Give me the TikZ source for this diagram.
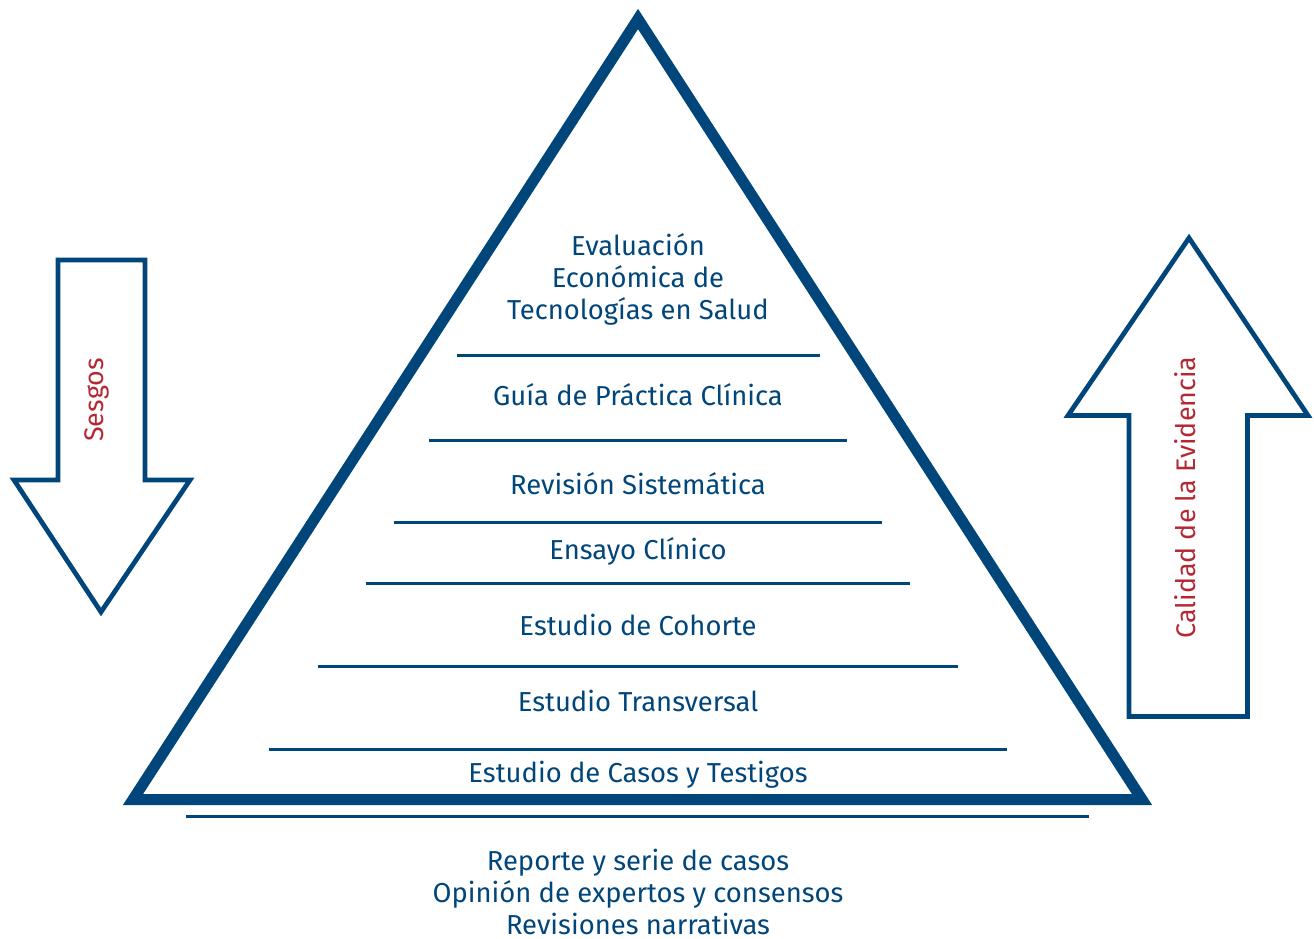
\documentclass[tikz,border=0pt]{standalone}
\usepackage{fontspec}
\setmainfont{Fira Sans}
\definecolor{azul}{RGB}{1,70,122}
\definecolor{rojo}{RGB}{180,40,52}
\tikzset{
    nivel/.style={text=azul, font=\fontsize{15.6}{18.2}\selectfont, anchor=base, align=center, inner sep=0pt},
    rotulo/.style={text=rojo, font=\fontsize{15.3}{18}\selectfont, rotate=90, anchor=base, inner sep=0pt},
    raya/.style={draw=azul, line width=0.06cm},
    flecha/.style={draw=azul, fill=white, line width=0.095cm, line join=miter},
}
\begin{document}
\begin{tikzpicture}[x=0.02cm, y=-0.02cm]
        \useasboundingbox (0,0) rectangle (1314,939);
        \draw[azul, line width=0.22cm, line join=miter] (638,19) -- (1142,799.5) -- (133,799.5) -- cycle; % piramide
        \draw[raya] (456.5,355.5) -- (819.5,355.5);
        \draw[raya] (429,440) -- (847,440);
        \draw[raya] (394,522) -- (882,522);
        \draw[raya] (366,583) -- (910,583);
        \draw[raya] (318,666) -- (958,666);
        \draw[raya] (269,749) -- (1007,749);
        \draw[raya] (186,816.5) -- (1089,816.5); % fuera
        \node[nivel] (evaluacion) at(638,319){Evaluación\\Económica de\\Tecnologías en Salud};
        \node[nivel] (guia) at(638,405){Guía de Práctica Clínica};
        \node[nivel] (revision) at(638,494){Revisión Sistemática};
        \node[nivel] (ensayo) at(638,559){Ensayo Clínico};
        \node[nivel] (cohorte) at(638,635){Estudio de Cohorte};
        \node[nivel] (transversal) at(638,711){Estudio Transversal};
        \node[nivel] (casos) at(638,782){Estudio de Casos y Testigos};
        \node[nivel] (reporte) at(638,934){Reporte y serie de casos\\Opinión de expertos y consensos\\Revisiones narrativas};
        \draw[flecha] (58,260) -- (145,260) -- (145,480) -- (190,480) -- (101,612) -- (14,480) -- (58,480) -- cycle; % sesgos
        \draw[flecha] (1129,716.5) -- (1129,415.5) -- (1068,415.5) -- (1189,238) -- (1308,415.5) -- (1247.5,415.5) -- (1247.5,716.5) -- cycle; % calidad
        \node[rotulo] (sesgos) at(103,400){Sesgos};
        \node[rotulo] (calidad) at(1195,497.5){Calidad de la Evidencia};
    \end{tikzpicture}
\end{document}
